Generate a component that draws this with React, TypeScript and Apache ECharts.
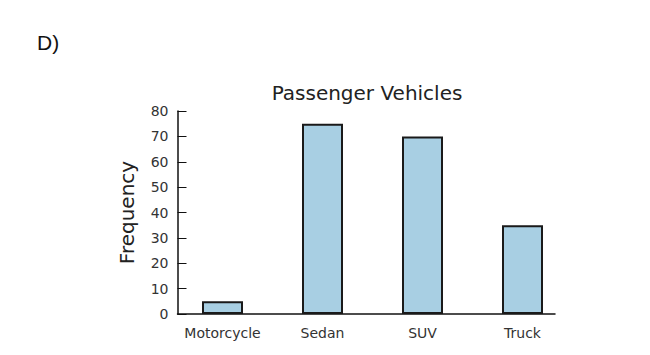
import React, { useEffect, useRef } from "react";
import * as echarts from "echarts";

const categories = ["Motorcycle", "Sedan", "SUV", "Truck"];
const frequencies = [5, 75, 70, 35];
const chartTitle = "Passenger Vehicles";
const yAxisName = "Frequency";
const panelLabel = "D)";

export default function App() {
  const ref = useRef<HTMLDivElement>(null);
  useEffect(() => {
    if (!ref.current) return;
    const chart = echarts.init(ref.current, null, { renderer: "svg" });
    chart.setOption({
      animation: false,
      backgroundColor: "#ffffff",
      title: {
        text: chartTitle,
        left: 362,
        top: 78,
        textAlign: "center",
        textStyle: { fontFamily: "DejaVu Sans", fontSize: 20, fontWeight: "normal", color: "#222" },
      },
      graphic: [
        {
          type: "text",
          left: 37,
          top: 32,
          style: { text: panelLabel, fontFamily: "Liberation Sans", fontSize: 21, fill: "#111" },
        },
      ],
      grid: [
        { left: 172.5, right: 77.5, top: 111, bottom: 41 },
        { left: 177.5, right: 95, top: 111, bottom: 41 },
      ],
      xAxis: [
        {
          type: "category",
          gridIndex: 0,
          data: categories,
          axisLine: { show: false },
          axisTick: { show: false },
          axisLabel: { margin: 12, fontFamily: "DejaVu Sans", fontSize: 14, color: "#333" },
        },
        {
          type: "value",
          gridIndex: 1,
          axisLine: { show: true, lineStyle: { color: "#111", width: 1.5 } },
          axisTick: { show: false },
          axisLabel: { show: false },
          splitLine: { show: false },
        },
      ],
      yAxis: [
        {
          type: "value",
          gridIndex: 0,
          min: 0,
          max: 80,
          interval: 10,
          offset: -5,
          name: yAxisName,
          nameLocation: "middle",
          nameGap: 41,
          nameTextStyle: { fontFamily: "DejaVu Sans", fontSize: 20, color: "#222" },
          axisLine: { show: true, lineStyle: { color: "#111", width: 1.5 } },
          axisTick: { show: true, inside: true, length: 9, lineStyle: { color: "#111", width: 1 } },
          axisLabel: { margin: 9, fontFamily: "DejaVu Sans", fontSize: 14, color: "#333" },
          splitLine: { show: false },
        },
        {
          type: "value",
          gridIndex: 1,
          show: false,
        },
      ],
      series: [
        {
          type: "bar",
          xAxisIndex: 0,
          yAxisIndex: 0,
          data: frequencies,
          barWidth: 41,
          itemStyle: { color: "#a8cfe3", borderColor: "#1a1a1a", borderWidth: 2 },
        },
      ],
    });
    return () => chart.dispose();
  }, []);
  return <div ref={ref} style={{ width: 650, height: 355, position: "absolute", left: 0, top: 0 }} />;
}
